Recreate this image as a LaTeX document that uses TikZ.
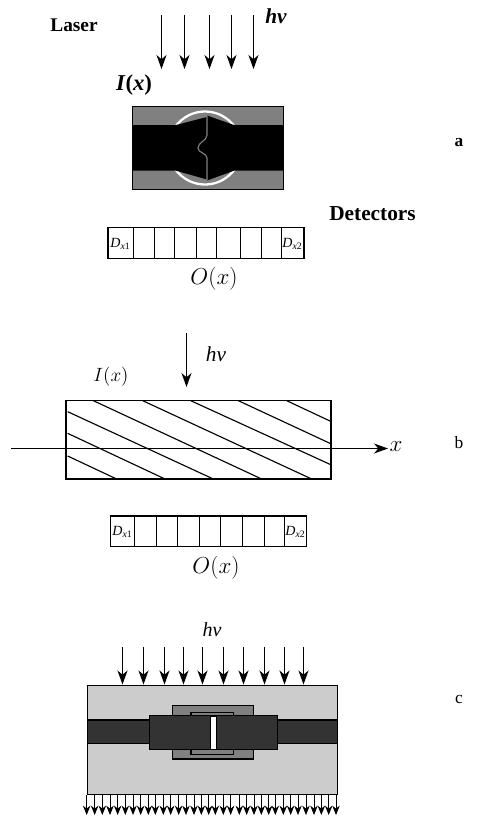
\documentclass[tikz,border=0pt]{standalone}
\usepackage{fontspec}
\setmainfont{Liberation Serif}
\usetikzlibrary{arrows.meta}
\tikzset{
  lbl/.style={inner sep=0pt,font=\fontsize{16}{18}\selectfont},
  bigmath/.style={inner sep=0pt,font=\fontsize{15}{17}\selectfont},
  omath/.style={inner sep=0pt,font=\fontsize{16}{18}\selectfont},
  boldlbl/.style={inner sep=0pt,font=\fontsize{16}{18}\selectfont\bfseries},
  sidelbl/.style={inner sep=0pt,font=\fontsize{13}{15}\selectfont},
  det/.style={inner sep=0pt,font=\fontsize{10.5}{12}\selectfont\itshape},
  box/.style={draw=black,line width=1.1pt},
  thin box/.style={draw=black,line width=0.9pt},
  ray/.style={draw=black,line width=0.8pt,-{Stealth[length=10.5pt,width=7.5pt,inset=3.2pt]}},
  smallray/.style={draw=black,line width=0.7pt,-{Stealth[length=7pt,width=5.6pt,inset=2.2pt]}},
  hatchline/.style={draw=black,line width=0.85pt}
}
\newcommand{\detlabel}[1]{$\mathit{D}_{\mathit{x}\mathrm{#1}}$}
\begin{document}
\begin{tikzpicture}[x=0.75pt,y=-0.75pt]
\useasboundingbox (0,0) rectangle (494,818);
\fill[white] (0,0) rectangle (494,818);
% panel a
\foreach \x in {161.5,184.5,209.5,231.5,253.5} \draw[ray] (\x,15) -- (\x,69);
\node[boldlbl,font=\fontsize{14.5}{17}\selectfont\bfseries] (laser) at (74,25) {Laser};
\node[boldlbl,font=\fontsize{16}{18}\selectfont\bfseries\itshape] (hva) at (276,16) {hv};
\node[bigmath,font=\fontsize{17}{19}\selectfont\bfseries] (ia) at (134,85) {\textit{I}(\textit{x})};
\node[boldlbl] (dets) at (372.5,214) {Detectors};
\node[sidelbl,font=\fontsize{13}{15}\selectfont\bfseries] (a) at (459,143) {a};
\fill[black!50] (132.7,106.7) rectangle (283.7,189.3);
\begin{scope}
\clip (132.7,106.7) rectangle (283.7,189.3);
\draw[white,line width=1.7pt] (205,148) circle (36.5);
\end{scope}
\fill[black] (132.7,125) -- (176,125) -- (207,117) -- (207,179.5) -- (176,170.7) -- (132.7,170.7) -- cycle;
\fill[black] (283.7,125) -- (234,125) -- (207,115.5) -- (207,180.5) -- (234,170.7) -- (283.7,170.7) -- cycle;
\draw[black!50,line width=0.85pt] (207,116) -- (207,135)
  .. controls (207,141) and (198,142) .. (198,148)
  .. controls (198,153) and (207,153) .. (207,158) -- (207,180);
\draw[box] (132.7,106.7) rectangle (283.7,189.3);
\draw[box] (108,227.7) rectangle (304,258.7);
\foreach \x in {133.5,154.5,174.5,196.5,216.5,240.5,261.5,281.5} \draw[thin box] (\x,227.7) -- (\x,258.7);
\node[det] (d1a) at (120.5,244) {\detlabel{1}};
\node[det] (d2a) at (292.5,244) {\detlabel{2}};
\node[omath] (oa) at (214,279) {$O(x)$};
% panel b
\draw[ray] (186.5,333) -- (186.5,387);
\node[lbl] (hvb) at (216,354) {\textit{hv}};
\node[bigmath] (ib) at (111,377) {$I(x)$};
\begin{scope}[x=0.25pt,y=-0.25pt,shift={(0,1140)}]
\draw[hatchline] (203,228)--(350,297) (203,160)--(495,297) (203,95)--(640,297)
 (280,62)--(785,297) (428,62)--(935,297) (572,62)--(990,253) (715,62)--(990,190) (860,62)--(990,123);
\end{scope}
\draw[box] (66,400.7) rectangle (331,479);
\coordinate (axisl) at (11,448.5);
\coordinate (axisr) at (388,448.5);
\draw[ray,line width=0.85pt] (axisl) -- (axisr);
\node[omath] (xb) at (396,447) {$x$};
\node[sidelbl] (b) at (459,443) {b};
\draw[box] (110.5,516) rectangle (306.7,546.7);
\foreach \x in {134.5,156.5,177.5,199.5,220.5,242.5,264.5,284.5} \draw[thin box] (\x,516) -- (\x,546.7);
\node[det] (d1b) at (122.5,532) {\detlabel{1}};
\node[det] (d2b) at (295.5,532) {\detlabel{2}};
\node[omath] (ob) at (216,568) {$O(x)$};
% panel c
\node[lbl,font=\fontsize{15}{17}\selectfont] (hvc) at (212,630) {\textit{hv}};
\node[sidelbl] (c) at (459,699) {c};
\foreach \x in {122.5,143.5,164.5,183.5,202.5,223.5,243.5,264.5,284.5,303.5} \draw[ray] (\x,647) -- (\x,684.5);
\draw[thin box,fill=black!20] (87.3,685.3) rectangle (337.7,794.3);
\draw[thin box,fill=black!80] (87.3,720) rectangle (337.7,743.7);
\draw[thin box,fill=black!50] (172.7,705.7) rectangle (253.3,759);
\draw[thin box,fill=black!50] (191,712.3) rectangle (233.7,754.7);
\draw[thin box,fill=black!80] (149.3,715.7) rectangle (277.7,749.7);
\draw[draw=black,line width=0.5pt,fill=white] (210.7,716) rectangle (216.3,749.5);
\foreach \z in {20,44,67,90,113,136,159,182,205,226,250,272,296,318,342,364,386,406,430,452,478,500,522,544,566,586,610,632,654,678,702,724,746,768}
  \draw[smallray] ({80+\z/3},795) -- ({80+\z/3},815);
\end{tikzpicture}
\end{document}
